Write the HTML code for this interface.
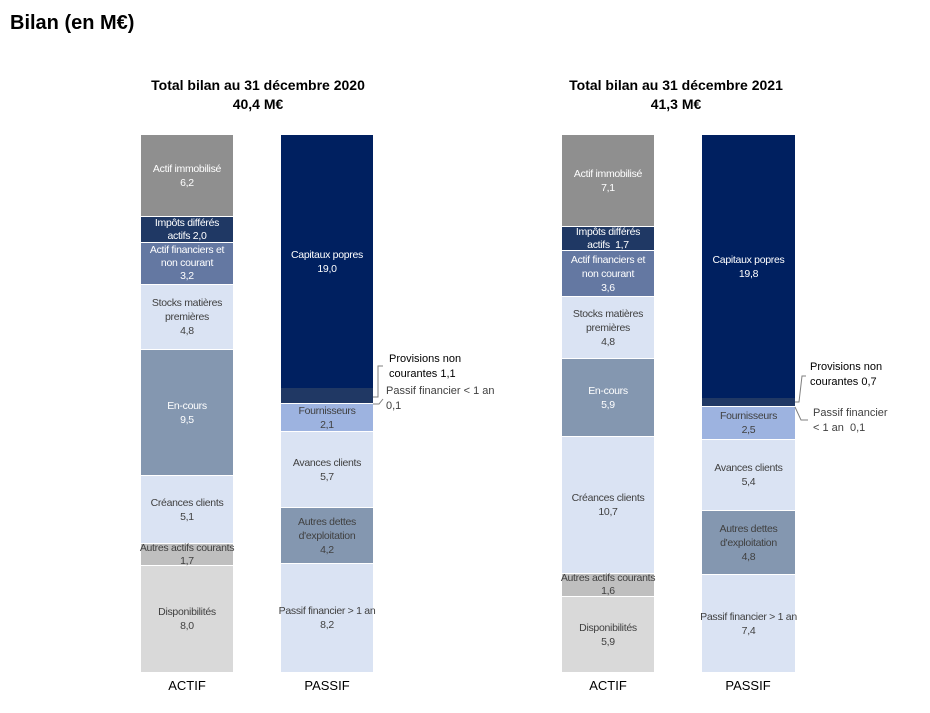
<!DOCTYPE html>
<html><head><meta charset="utf-8"><style>
body{margin:0;width:930px;height:713px;background:#fff;position:relative;overflow:hidden;font-family:"Liberation Sans",Arial,sans-serif}
.t{position:absolute;font-weight:bold}
.s{position:absolute;display:flex;flex-direction:column;justify-content:center;align-items:center;text-align:center;font-size:10.5px;letter-spacing:-0.3px;white-space:nowrap;line-height:14px;color:#404040;box-sizing:border-box;border-bottom:1px solid #fff;overflow:visible}
.w{color:#fff}
.a{position:absolute;font-size:11px;line-height:15px;color:#404040;white-space:nowrap}
.ct{position:absolute;width:300px;text-align:center;font-weight:bold;font-size:14px;line-height:19px;color:#000}
.lb{position:absolute;width:92px;text-align:center;font-size:13px;color:#000}
</style></head><body>
<div class="t" style="left:10px;top:12px;font-size:20px">Bilan (en M€)</div>
<div class="ct" style="left:108px;top:76px">Total bilan au 31 décembre 2020<br>40,4 M€</div>
<div class="ct" style="left:526px;top:76px">Total bilan au 31 décembre 2021<br>41,3 M€</div>

<!-- 2020 ACTIF -->
<div class="s w" style="left:141px;width:92px;top:135px;height:82px;background:#8f8f8f">Actif immobilisé<br>6,2</div>
<div class="s w" style="left:141px;width:92px;top:217px;height:26px;background:#1f3864;line-height:13px">Impôts différés<br>actifs 2,0</div>
<div class="s w" style="left:141px;width:92px;top:243px;height:42px;background:#6478a2;line-height:13px">Actif financiers et<br>non courant<br>3,2</div>
<div class="s" style="left:141px;width:92px;top:285px;height:65px;background:#dae3f3">Stocks matières<br>premières<br>4,8</div>
<div class="s w" style="left:141px;width:92px;top:350px;height:126px;background:#8497b0">En-cours<br>9,5</div>
<div class="s" style="left:141px;width:92px;top:476px;height:68px;background:#dae3f3">Créances clients<br>5,1</div>
<div class="s" style="left:141px;width:92px;top:544px;height:22px;background:#bfbfbf;line-height:13px">Autres actifs courants<br>1,7</div>
<div class="s" style="left:141px;width:92px;top:566px;height:106px;background:#d9d9d9;border:0">Disponibilités<br>8,0</div>
<!-- 2020 PASSIF -->
<div class="s w" style="left:281px;width:92px;top:135px;height:253px;background:#002060;border:0">Capitaux popres<br>19,0</div>
<div class="s" style="left:281px;width:92px;top:388px;height:16px;background:#203864"></div>
<div class="s" style="left:281px;width:92px;top:404px;height:28px;background:#9db3e0">Fournisseurs<br>2,1</div>
<div class="s" style="left:281px;width:92px;top:432px;height:76px;background:#dae3f3">Avances clients<br>5,7</div>
<div class="s" style="left:281px;width:92px;top:508px;height:56px;background:#8497b0">Autres dettes<br>d'exploitation<br>4,2</div>
<div class="s" style="left:281px;width:92px;top:564px;height:108px;background:#dae3f3;border:0">Passif financier &gt; 1 an<br>8,2</div>
<div class="a" style="left:389px;top:352px;color:#000">Provisions non<br>courantes 1,1</div>
<div class="a" style="left:386px;top:384px">Passif financier &lt; 1 an<br>0,1</div>

<!-- 2021 ACTIF -->
<div class="s w" style="left:562px;width:92px;top:135px;height:92px;background:#8f8f8f">Actif immobilisé<br>7,1</div>
<div class="s w" style="left:562px;width:92px;top:227px;height:24px;background:#1f3864;line-height:13px">Impôts différés<br>actifs&nbsp; 1,7</div>
<div class="s w" style="left:562px;width:92px;top:251px;height:46px;background:#6478a2">Actif financiers et<br>non courant<br>3,6</div>
<div class="s" style="left:562px;width:92px;top:297px;height:62px;background:#dae3f3">Stocks matières<br>premières<br>4,8</div>
<div class="s w" style="left:562px;width:92px;top:359px;height:78px;background:#8497b0">En-cours<br>5,9</div>
<div class="s" style="left:562px;width:92px;top:437px;height:137px;background:#dae3f3">Créances clients<br>10,7</div>
<div class="s" style="left:562px;width:92px;top:574px;height:23px;background:#bfbfbf;line-height:13px">Autres actifs courants<br>1,6</div>
<div class="s" style="left:562px;width:92px;top:597px;height:75px;background:#d9d9d9;border:0">Disponibilités<br>5,9</div>
<!-- 2021 PASSIF -->
<div class="s w" style="left:702px;width:93px;top:135px;height:263px;background:#002060;border:0">Capitaux popres<br>19,8</div>
<div class="s" style="left:702px;width:93px;top:398px;height:9px;background:#203864"></div>
<div class="s" style="left:702px;width:93px;top:407px;height:33px;background:#9db3e0">Fournisseurs<br>2,5</div>
<div class="s" style="left:702px;width:93px;top:440px;height:71px;background:#dae3f3">Avances clients<br>5,4</div>
<div class="s" style="left:702px;width:93px;top:511px;height:64px;background:#8497b0">Autres dettes<br>d'exploitation<br>4,8</div>
<div class="s" style="left:702px;width:93px;top:575px;height:97px;background:#dae3f3;border:0">Passif financier &gt; 1 an<br>7,4</div>
<div class="a" style="left:810px;top:360px;color:#000">Provisions non<br>courantes 0,7</div>
<div class="a" style="left:813px;top:406px">Passif financier<br>&lt; 1 an&nbsp; 0,1</div>

<svg style="position:absolute;left:0;top:0" width="930" height="713">
<g stroke="#7f7f7f" fill="none" stroke-width="1">
<polyline points="373,397 378,397 378,366 383,366"/>
<polyline points="373,404 379,404 383,399"/>
<polyline points="795,402 799,402 802,376 806,376"/>
<polyline points="795,407 801,420 808,420"/>
</g></svg>

<div class="lb" style="left:141px;top:678px">ACTIF</div>
<div class="lb" style="left:281px;top:678px">PASSIF</div>
<div class="lb" style="left:562px;top:678px">ACTIF</div>
<div class="lb" style="left:702px;top:678px">PASSIF</div>
</body></html>
